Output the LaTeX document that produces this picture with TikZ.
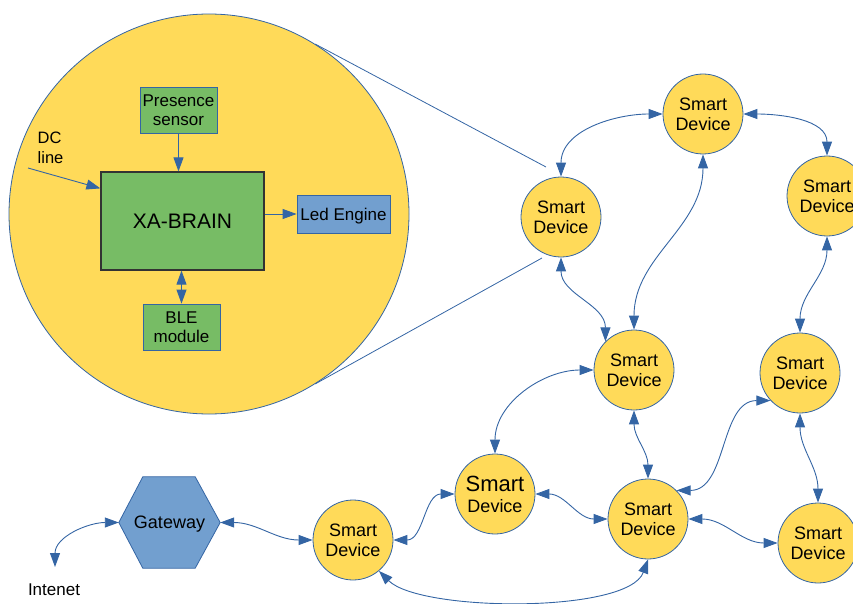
\documentclass[tikz,border=0pt]{standalone}
\usepackage{fontspec}
\setmainfont{Liberation Sans}
\usetikzlibrary{arrows.meta}
\definecolor{sdyellow}{RGB}{255,218,89}
\definecolor{lgreen}{HTML}{77BC65}
\definecolor{lblue}{HTML}{729FCF}
\definecolor{dblue}{HTML}{3465A4}
\begin{document}
\begin{tikzpicture}[x=1pt,y=1pt,
  dev/.style={circle, draw=dblue, line width=0.8pt, fill=sdyellow, minimum size=80pt,
    inner sep=0pt, align=center, font=\fontsize{18}{20}\selectfont},
  link/.style={draw=dblue, line width=0.9pt,
    {Triangle[length=14pt,width=10pt]}-{Triangle[length=14pt,width=10pt]}},
  oneway/.style={draw=dblue, line width=0.9pt, -{Triangle[length=14pt,width=10pt]}},
  gbox/.style={draw=dblue, line width=0.8pt, fill=lgreen, inner sep=0pt, align=center,
    font=\fontsize{17}{19}\selectfont},
  bbox/.style={draw=dblue, line width=0.8pt, fill=lblue, inner sep=0pt, align=center,
    font=\fontsize{17}{19}\selectfont},
  zoomline/.style={draw=dblue, line width=0.8pt}
]
\useasboundingbox (0,0) rectangle (853,-604);

% zoom circle
\node[circle, draw=dblue, line width=0.8pt, fill=sdyellow, minimum size=400pt, inner sep=0pt] (zoomc) at (209,-214) {};

% inner blocks
\node[draw=black!80, line width=1.2pt, fill=lgreen, minimum width=163pt, minimum height=98pt,
  inner sep=0pt, font=\fontsize{21}{21}\selectfont] (xa) at (182.5,-221) {XA-BRAIN};
\node[gbox, minimum width=77pt, minimum height=46pt] (pres) at (178.5,-110) {Presence\\sensor};
\node[bbox, minimum width=93pt, minimum height=38pt, text depth=0pt] (led) at (343.5,-214) {Led Engine};
\node[gbox, minimum width=77pt, minimum height=46pt] (ble) at (181.5,-327) {BLE\\module};
\node[anchor=west, inner sep=0pt, align=left, font=\fontsize{16.5}{20}\selectfont] (dc) at (37.5,-147.4) {DC\\line};

\coordinate (dcstart) at (28,-168);
\coordinate (dcend) at ([yshift=-17pt]xa.north west);
\draw[oneway] (dcstart) -- (dcend);
\draw[oneway] (pres.south) -- (pres.south |- xa.north);
\draw[oneway] (xa.east |- led.west) -- (led.west);
\draw[link] (ble.north |- xa.south) -- (ble.north);

% smart devices
\node[dev] (n1) at (703,-114) {Smart\\Device};
\node[dev] (n2) at (561,-217) {Smart\\Device};
\node[dev] (n3) at (827,-196) {Smart\\Device};
\node[dev] (n4) at (634,-370) {Smart\\Device};
\node[dev] (n5) at (800,-373) {Smart\\Device};
\node[dev, font=\fontsize{18}{21}\selectfont] (n6) at (495,-494) {{\fontsize{22}{21}\selectfont Smart}\\Device};
\node[dev] (n7) at (648,-519) {Smart\\Device};
\node[dev] (n8) at (818,-543) {Smart\\Device};
\node[dev] (n9) at (353,-540) {Smart\\Device};

% gateway
\node[minimum width=101pt, minimum height=91pt, inner sep=0pt] (gw) at (169.5,-522.5) {};
\draw[draw=dblue, line width=0.8pt, fill=lblue]
  (gw.west) -- ([xshift=24pt]gw.north west) -- ([xshift=-25pt]gw.north east) -- (gw.east)
  -- ([xshift=-25pt]gw.south east) -- ([xshift=24pt]gw.south west) -- cycle;
\node[inner sep=0pt, text depth=0pt, font=\fontsize{18}{18}\selectfont] (gwlabel) at (gw.center) {Gateway};

\coordinate (inet) at (55,-567);
\node[inner sep=0pt, font=\fontsize{17}{17}\selectfont] (inettext) at (54,-590) {Intenet};

% zoom lines
\coordinate (zt) at (546,-167);
\coordinate (zb) at (542,-258);
\draw[zoomline] (zoomc.58.7) -- (zt);
\draw[zoomline] (zoomc.-58.8) -- (zb);

% links
\draw[link] (n1.west) to[out=180,in=90] (n2.north);
\draw[link] (n1.east) to[out=0,in=90] (n3.north);
\draw[link] (n1.south) to[out=-90,in=90] (n4.north);
\draw[link] (n2.south) to[out=-90,in=90] (n4.135);
\draw[link] (n4.west) to[out=180,in=90] (n6.north);
\draw[link] (n4.south) to[out=-90,in=90] (n7.north);
\draw[link] (n7.45) to[out=0,in=180] (n5.223);
\draw[link] (n3.south) to[out=-90,in=90] (n5.north);
\draw[link] (n5.south) to[out=-90,in=90] (n8.north);
\draw[link] (n7.east) to[out=0,in=180] (n8.west);
\draw[link] (n6.east) to[out=0,in=180] (n7.west);
\draw[link] (n9.east) to[out=0,in=180] (n6.west);
\draw[link] (n9.-50) to[out=-45,in=-110,looseness=0.55] (n7.south);
\draw[link] (gw.east) to[out=0,in=180] (n9.west);
\draw[link] (gw.west) to[out=180,in=90] (inet);
\end{tikzpicture}
\end{document}
